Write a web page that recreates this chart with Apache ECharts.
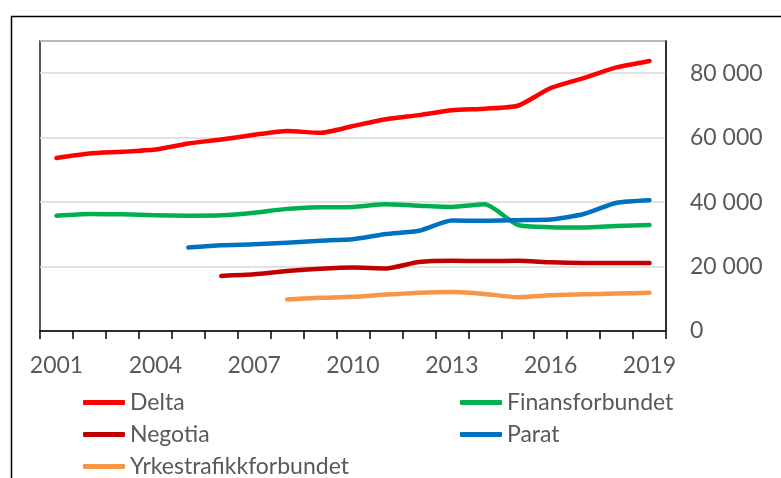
<!DOCTYPE html>
<html>
<head>
<meta charset="utf-8">
<script src="https://cdn.jsdelivr.net/npm/echarts@6/dist/echarts.min.js"></script>
<style>
html,body{margin:0;padding:0;background:#fff;}
#chart{width:781px;height:478px;}
</style>
</head>
<body>
<div id="chart"></div>
<script>
const years = ['2001','2002','2003','2004','2005','2006','2007','2008','2009','2010','2011','2012','2013','2014','2015','2016','2017','2018','2019'];
const delta = [53700,55100,55600,56300,58200,59400,60900,62100,61500,63600,65700,67000,68500,69000,69900,75400,78500,81800,83800];
const finansforbundet = [35800,36300,36200,35900,35800,35900,36700,37900,38400,38500,39300,38900,38500,39300,32900,32200,32100,32600,32900];
const negotia = [null,null,null,null,null,17100,17600,18600,19300,19700,19400,21400,21800,21700,21800,21300,21100,21100,21100];
const parat = [null,null,null,null,25900,26600,26900,27400,28000,28500,30100,31100,34300,34200,34400,34600,36300,39800,40600];
const yrkestrafikkforbundet = [null,null,null,null,null,null,null,9800,10300,10600,11300,11900,12100,11500,10500,11100,11400,11600,11900];
const yTicks = {min:0, max:90000, interval:20000};

const FONT = 'Lato';
const TXT = '#595959';
const FS = 23;
function fmt(v){ return String(v).replace(/\B(?=(\d{3})+(?!\d))/g, '\u00a0'); }
function mk(name, data, color){
  return {name:name, type:'line', data:data, symbol:'none', smooth:0.2, connectNulls:false,
    lineStyle:{color:color, width:4.5, cap:'round', join:'round'}, itemStyle:{color:color}};
}
const legendBase = {orient:'vertical', top:391, height:120, padding:0, itemWidth:42, itemHeight:5, itemGap:9,
  icon:'roundRect', textStyle:{color:TXT, fontFamily:FONT, fontSize:FS, lineHeight:23}};
const chart = echarts.init(document.getElementById('chart'), null, {renderer:'canvas'});
chart.setOption({
  animation:false,
  backgroundColor:'#fff',
  graphic:[{type:'rect', left:9, top:14, shape:{width:820, height:520}, style:{fill:'none', stroke:'#000', lineWidth:1.5}, z:-1}],
  grid:{left:40, top:41, width:626, height:290, show:true, borderColor:'#222', borderWidth:1.5, backgroundColor:'transparent'},
  xAxis:{type:'category', data:years, boundaryGap:true,
    axisLine:{lineStyle:{color:'#000', width:1.5}},
    axisTick:{show:true, interval:0, length:8, lineStyle:{color:'#000', width:1.5}},
    axisLabel:{interval:2, margin:23, color:TXT, fontFamily:FONT, fontSize:FS},
    splitLine:{show:false}},
  yAxis:{type:'value', position:'right', min:yTicks.min, max:yTicks.max, interval:yTicks.interval,
    axisLine:{show:true, lineStyle:{color:'#222', width:1.5}},
    axisTick:{show:false},
    axisLabel:{margin:24, color:TXT, fontFamily:FONT, fontSize:FS, showMaxLabel:false, formatter:fmt},
    splitLine:{show:true, lineStyle:{color:'#d9d9d9', width:1.5}}},
  legend:[
    Object.assign({left:83, data:['Delta','Negotia','Yrkestrafikkforbundet']}, legendBase),
    Object.assign({left:460, data:['Finansforbundet','Parat']}, legendBase)
  ],
  series:[
    mk('Delta', delta, '#FF0000'),
    mk('Finansforbundet', finansforbundet, '#00B050'),
    mk('Negotia', negotia, '#C00000'),
    mk('Parat', parat, '#0070C0'),
    mk('Yrkestrafikkforbundet', yrkestrafikkforbundet, '#F79646')
  ]
});
</script>
</body>
</html>
